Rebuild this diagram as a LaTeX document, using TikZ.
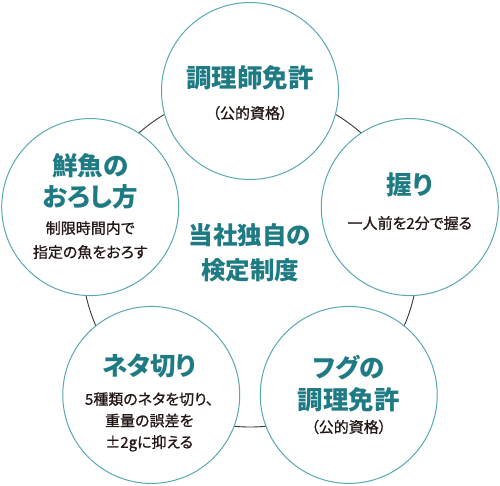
\documentclass[tikz,border=0pt]{standalone}
\usepackage{fontspec}
\newfontfamily\jp[RawFeature=+palt]{Noto Sans CJK JP}
\newfontfamily\jpm[RawFeature=+palt,FakeBold=0.8]{Noto Sans CJK JP}
\definecolor{ringc}{HTML}{58A9B1}
\definecolor{tealtext}{HTML}{1E7B83}
\definecolor{bodytext}{HTML}{231815}
\definecolor{connc}{HTML}{3D3430}
\tikzset{
  stage/.style={circle, draw=ringc, line width=1pt, fill=white, minimum size=177pt, inner sep=0pt},
  conn/.style={draw=connc, line width=0.9pt},
  ttl/.style={text=tealtext, align=center, inner sep=0pt, font=\jp\bfseries\fontsize{25.5}{30}\selectfont},
  bdy/.style={text=bodytext, align=center, inner sep=0pt, font=\jpm\fontsize{15}{23}\selectfont},
}
\begin{document}
\begin{tikzpicture}[x=1pt,y=1pt]
\useasboundingbox (0,0) rectangle (500,485);
\coordinate (ctr) at (250,226);
\draw[conn] (ctr) circle (168pt);
\node[stage] (c1) at ([shift={(90:168)}]ctr) {};
\node[stage] (c2) at ([shift={(162:168)}]ctr) {};
\node[stage] (c3) at ([shift={(18:168)}]ctr) {};
\node[stage] (c4) at ([shift={(234:168)}]ctr) {};
\node[stage] (c5) at ([shift={(306:168)}]ctr) {};
% top
\node[ttl] (t1) at ([yshift=13pt]c1) {調理師免許};
\node[bdy] (b1) at ([yshift=-22pt]c1) {（公的資格）};
% left
\node[ttl, font=\jp\bfseries\fontsize{25.5}{31}\selectfont] (t2) at ([yshift=26pt]c2) {鮮魚の\\おろし方};
\node[bdy, font=\jpm\fontsize{15}{24}\selectfont] (b2) at ([yshift=-33pt]c2) {制限時間内で\\指定の魚をおろす};
% right
\node[ttl] (t3) at ([yshift=22pt]c3) {握り};
\node[bdy] (b3) at ([yshift=-16pt]c3) {一人前を2分で握る};
% bottom left
\node[ttl] (t4) at ([yshift=29pt,xshift=-2pt]c4) {ネタ切り};
\node[bdy, font=\jpm\fontsize{15}{21.5}\selectfont] (b4) at ([yshift=-27pt,xshift=-2pt]c4) {5種類のネタを切り、\\重量の誤差を\\±2gに抑える};
% bottom right
\node[ttl, font=\jp\bfseries\fontsize{25.5}{32}\selectfont] (t5) at ([yshift=11pt]c5) {フグの\\調理免許};
\node[bdy] (b5) at ([yshift=-32pt]c5) {（公的資格）};
% center
\node[ttl, font=\jp\bfseries\fontsize{24.5}{35}\selectfont] (mid) at ([yshift=6.5pt]ctr) {当社独自の\\検定制度};
\end{tikzpicture}
\end{document}
